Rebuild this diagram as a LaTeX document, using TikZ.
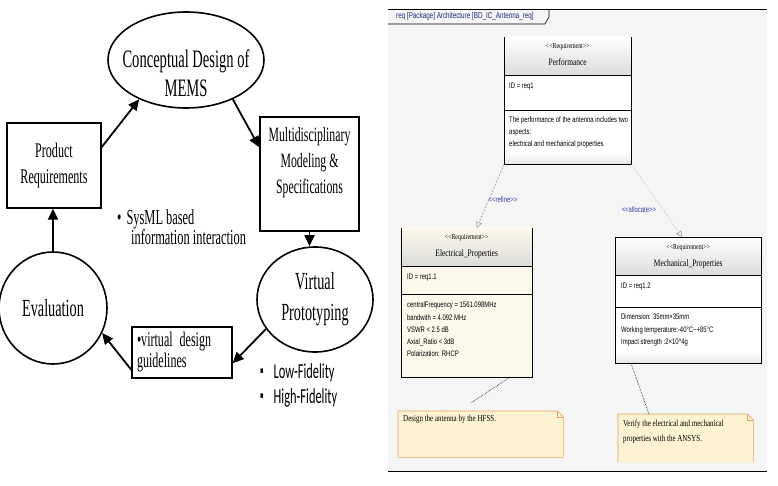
\documentclass[tikz,border=0pt]{standalone}
\usepackage{fontspec}
\setmainfont{Liberation Serif}
\newfontfamily\cycleserif[FakeStretch=0.58]{Liberation Serif}
\newfontfamily\cyclesans[FakeStretch=0.58]{Carlito}
\newfontfamily\cyclemark[FakeStretch=0.58]{DejaVu Sans}
\newfontfamily\reqsans[FakeStretch=0.74]{Liberation Sans}
\newfontfamily\reqserif[FakeStretch=0.76]{Liberation Serif}
\usepackage{xcolor}
\usetikzlibrary{arrows.meta, positioning, shapes.geometric}

\definecolor{reqbg}{HTML}{F5F5F5}
\definecolor{reqcream}{HTML}{FDF9EA}
\definecolor{notefill}{HTML}{FDF2D2}
\definecolor{notedraw}{HTML}{E9A25F}
\definecolor{linkblue}{HTML}{3A3AA8}
\definecolor{framenavy}{HTML}{1E2A78}

\newcommand{\fsize}[2]{\fontsize{#1}{#2}\selectfont}
\newcommand{\stereotype}[1]{<\kern0pt<#1>\kern0pt>}
\newcommand{\fidmark}{\raisebox{4.5pt}{\cyclemark\fsize{9}{9}▪}\hspace{10pt}}

\begin{document}
\begin{tikzpicture}[
  x=1pt, y=-1pt,
  stage/.style={ellipse, draw=black, line width=1.6pt, inner sep=1pt},
  cyclebox/.style={rectangle, draw=black, line width=1.3pt, align=center},
  flow/.style={-{Triangle[length=11pt, width=10pt]}, line width=1.8pt},
  reqbox/.style={rectangle, anchor=north west, inner sep=0pt, fill=#1},
  reqhead/.style={anchor=north, align=center, inner sep=0pt, font=\reqserif\fsize{9.8}{17}},
  reqtext/.style={align=left, inner sep=0pt, font=\reqsans\fsize{8}{#1}},
  reqtext/.default=12,
  linklabel/.style={inner sep=0pt, text=linkblue, font=\reqsans\fsize{8}{9}},
  refine/.style={draw=black!40, line width=0.6pt, dash pattern=on 2pt off 1.5pt, -{Triangle[open, length=6pt, width=6pt]}},
  allocate/.style={draw=black!40, line width=0.6pt, dotted, -{Triangle[open, length=6pt, width=6pt]}},
  notebox/.style={rectangle, anchor=north west, inner sep=0pt},
  notetext/.style={anchor=north west, align=left, inner sep=0pt, font=\reqserif\fsize{9.2}{15}},
  notelink/.style={densely dotted, line width=0.6pt}
]
\useasboundingbox (0,0) rectangle (778,486);

% Design cycle stages
\node[stage, minimum width=156pt, minimum height=96pt] (concept) at (186,60) {};
\node[font=\cycleserif\fsize{25.1}{29}, align=center] (concepttext) at ([yshift=-13pt]concept.center) {Conceptual Design of\\MEMS};
\node[cyclebox, minimum width=94pt, minimum height=85pt, font=\cycleserif\fsize{20.8}{26}] (product) at (54,165.5) {Product\\Requirements};
\node[cyclebox, minimum width=99pt, minimum height=114pt] (multi) at (309.5,174) {};
\node[font=\cycleserif\fsize{20.3}{26}, align=center] (multitext) at ([yshift=11pt]multi.center) {Multidisciplinary\\Modeling \&\\Specifications};
\node[stage, minimum width=116pt, minimum height=105pt, font=\cycleserif\fsize{24.6}{31}, align=center] (virtual) at (315,299.5) {Virtual\\Prototyping};
\node[stage, minimum width=108pt, minimum height=112pt, font=\cycleserif\fsize{24.6}{28}] (eval) at (53,308) {Evaluation};
\node[cyclebox, minimum width=100pt, minimum height=51pt, inner xsep=5pt, text width=90pt, align=left, font=\cycleserif\fsize{20.8}{21}] (guide) at (182,352.5) {\textbullet virtual design\\guidelines};

% Side notes of the cycle
\node[anchor=west, inner sep=0pt, align=left, font=\cycleserif\fsize{21.4}{20}] (sysml) at (117,227) {\textbullet\hspace{5pt}SysML based\\\hspace{14pt}information interaction};
\node[anchor=west, inner sep=0pt, align=left, font=\cyclesans\fsize{21.4}{25}] (fidelity) at (260,385) {\fidmark Low-Fidelity\\\fidmark High-Fidelity};

% Arrows around the cycle
\draw[flow] (product.21) -- (concept.220);
\draw[flow] (concept.-40) -- (multi.152);
\draw[flow] (multi.south) -- (multi.south |- virtual.north);
\draw[flow] (virtual.211) -- (guide.-12);
\draw[flow] (guide.199) -- (eval.-27);
\draw[flow] (eval.north) -- (eval.north |- product.south);

% Requirement diagram frame
\fill[reqbg] (388,9) rectangle (767,471);
\draw[line width=0.8pt] (388,9) -- (767,9);
\draw[line width=0.8pt] (388,471) -- (767,471);
\draw[line width=0.6pt] (388,24) -- (545,24) -- (549,17) -- (549,9);
\node[anchor=west, inner sep=0pt, text=framenavy, font=\reqsans\fsize{8.5}{9}] (frametitle) at (396,16.5) {req [Package] Architecture [BD\_IC\_Antenna\_req]};

% Requirement blocks
\node[reqbox=white, minimum width=127pt, minimum height=127pt] (perf) at (504,37) {};
\node[reqbox=reqcream, minimum width=131pt, minimum height=149pt] (elec) at (401,228) {};
\node[reqbox=white, minimum width=146pt, minimum height=126pt] (mech) at (615,237) {};

\foreach \b/\hi/\lo/\sep in {perf/white/black!10/73, elec/reqcream/reqcream/66, mech/white/black!10/70} {
  \shade[top color=\hi, bottom color=black!14] (\b.north west) rectangle ([yshift=-38pt]\b.north east);
  \shade[top color=\hi, bottom color=\lo] ([yshift=12pt]\b.south west) rectangle (\b.south east);
  \draw[line width=0.8pt] ([yshift=-38pt]\b.north west) -- ([yshift=-38pt]\b.north east)
    ([yshift=-\sep pt]\b.north west) -- ([yshift=-\sep pt]\b.north east)
    (\b.north west) -- (\b.south west) -- (\b.south east) -- (\b.north east);
}
\draw[line width=0.8pt] (mech.north west) -- (mech.north east);

\node[reqhead] (perfname) at ([yshift=-6.5pt]perf.north) {{\fsize{7.7}{9}\stereotype{Requirement}}\\Performance};
\node[reqtext, anchor=west] (perfid) at ([xshift=5pt, yshift=-50pt]perf.north west) {ID = req1};
\node[reqtext, anchor=north west] (perfdesc) at ([xshift=5pt, yshift=-80pt]perf.north west) {The performance of the antenna includes two\\aspects:\\electrical and mechanical properties};

\node[reqhead] (elecname) at ([yshift=-6.5pt]elec.north) {{\fsize{7.7}{9}\stereotype{Requirement}}\\Electrical\_Properties};
\node[reqtext, anchor=west] (elecid) at ([xshift=6pt, yshift=-50pt]elec.north west) {ID = req1.1};
\node[reqtext=12.25, anchor=north west] (elecspec) at ([xshift=6pt, yshift=-74pt]elec.north west) {centralFrequency = 1561.098MHz\\bandwith = 4.092 MHz\\VSWR < 2.5 dB\\Axial\_Ratio < 3dB\\Polarization: RHCP};

\node[reqhead] (mechname) at ([yshift=-7pt]mech.north) {{\fsize{7.7}{9}\stereotype{Requirement}}\\Mechanical\_Properties};
\node[reqtext, anchor=west] (mechid) at ([xshift=6pt, yshift=-50pt]mech.north west) {ID = req1.2};
\node[reqtext=12.5, anchor=north west] (mechspec) at ([xshift=6pt, yshift=-77pt]mech.north west) {Dimension: 35mm×35mm\\Working temperature:-40°C\textasciitilde+85°C\\Impact strength :2×10\textasciicircum 4g};

% Relations between requirements
\draw[refine] (perf.south west) -- ([xshift=10pt]elec.north) node[linklabel, pos=0.55, xshift=14pt] {\stereotype{refine}};
\draw[allocate] (perf.south east) -- ([xshift=-6pt]mech.north) node[linklabel, pos=0.62, xshift=-24pt] {\stereotype{allocate}};

% Notes
\node[notebox, minimum width=165pt, minimum height=46pt] (hfssnote) at (398,411) {};
\filldraw[fill=notefill, draw=notedraw, line width=0.6pt] (hfssnote.north west) -- ([xshift=-6pt]hfssnote.north east) -- ([yshift=-6pt]hfssnote.north east) -- (hfssnote.south east) -- (hfssnote.south west) -- cycle;
\draw[notedraw, line width=0.5pt] ([xshift=-6pt]hfssnote.north east) |- ([yshift=-6pt]hfssnote.north east);
\node[notetext] (hfsstext) at ([xshift=5pt, yshift=-4pt]hfssnote.north west) {Design the antenna by the HFSS.};

\node[notebox, minimum width=135pt, minimum height=48pt] (ansysnote) at (618,414) {};
\fill[notefill] (ansysnote.north west) -- ([xshift=-6pt]ansysnote.north east) -- ([yshift=-6pt]ansysnote.north east) -- (ansysnote.south east) -- (ansysnote.south west) -- cycle;
\draw[notedraw, line width=0.6pt] (ansysnote.south west) -- (ansysnote.north west) -- ([xshift=-6pt]ansysnote.north east) -- ([yshift=-6pt]ansysnote.north east) -- (ansysnote.south east);
\draw[notedraw, line width=0.5pt] ([xshift=-6pt]ansysnote.north east) |- ([yshift=-6pt]ansysnote.north east);
\node[notetext] (ansystext) at ([xshift=5pt, yshift=-6pt]ansysnote.north west) {Verify the electrical and mechanical\\properties with the ANSYS.};

\draw[notelink] ([xshift=43pt]elec.south) -- ([xshift=-10pt, yshift=8pt]hfssnote.north);
\draw[notelink] ([xshift=16pt]mech.south west) -- ([xshift=31pt]ansysnote.north west);
\end{tikzpicture}
\end{document}
